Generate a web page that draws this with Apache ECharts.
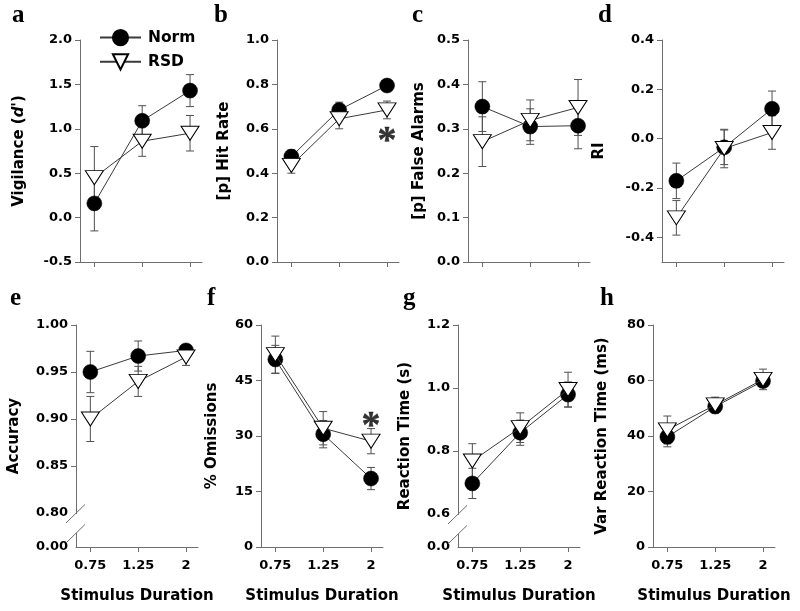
<!DOCTYPE html>
<html><head><meta charset="utf-8">
<script src="https://cdn.jsdelivr.net/npm/echarts@6/dist/echarts.min.js"></script>
<style>html,body{margin:0;padding:0;background:#fff}#c{width:800px;height:611px}</style>
</head><body><div id="c"></div>
<script>
// ---- data ----
const durations = ['0.75', '1.25', '2'];
// a Vigilance (d')
const normA = [0.16, 1.09, 1.43], normA_se = [0.31, 0.17, 0.18];
const rsdA = [0.45, 0.86, 0.95], rsdA_se = [0.35, 0.17, 0.20];
// b Hit rate
const normB = [0.475, 0.685, 0.795], normB_se = [0.03, 0.035, 0.02];
const rsdB = [0.435, 0.645, 0.685], rsdB_se = [0.035, 0.045, 0.04];
// c False alarms
const normC = [0.350, 0.305, 0.307], normC_se = [0.056, 0.040, 0.052];
const rsdC = [0.271, 0.319, 0.348], rsdC_se = [0.056, 0.046, 0.063];
// d RI
const normD = [-0.171, -0.035, 0.121], normD_se = [0.072, 0.070, 0.072];
const rsdD = [-0.321, -0.040, 0.025], rsdD_se = [0.070, 0.078, 0.068];
// e Accuracy
const normE = [0.950, 0.967, 0.973], normE_se = [0.022, 0.016, 0.005];
const rsdE = [0.900, 0.940, 0.966], rsdE_se = [0.024, 0.016, 0.009];
// f % Omissions
const normF = [50.7, 30.5, 18.5], normF_se = [3.8, 3.7, 3.0];
const rsdF = [52.0, 32.1, 28.6], rsdF_se = [5.0, 4.5, 3.4];
// g Reaction time
const normG = [0.697, 0.858, 0.979], normG_se = [0.048, 0.040, 0.040];
const rsdG = [0.768, 0.874, 0.995], rsdG_se = [0.055, 0.047, 0.055];
// h Var reaction time
const normH = [39.7, 50.6, 59.8], normH_se = [3.6, 1.5, 1.5];
const rsdH = [42.2, 51.2, 60.4], rsdH_se = [5.0, 2.8, 3.7];
// significance markers [x index, y value]
const starB = [[2, 0.585]];
const starF = [[2, 35.1]];
// tick labels
const dTicks = [-0.4, -0.2, 0.0, 0.2, 0.4];
const eTicks = [0.80, 0.85, 0.90, 0.95, 1.00];
const gTicks = [0.6, 0.8, 1.0, 1.2];
const eFloor = 0.7638, gFloor = 0.495; // axis-break floor shown as 0

// ---- style ----
const FONT = 'DejaVu Sans';
const AX = '#6e6e6e';
const LINE = '#3a3a3a';
const X_MIN = -0.3, X_MAX = 2.25;
const TRI = 'path://M0,0L18,0L9,14Z';

const chart = echarts.init(document.getElementById('c'), null, {renderer: 'canvas'});

const panels = [
  {left: 80,  top: 40,  norm: normA, nse: normA_se, rsd: rsdA, rse: rsdA_se, gap: 53, xl: false,
   y: {min: -0.5, max: 2.0, interval: 0.5, fmt: v => v.toFixed(1)},
   name: '{n|Vigilance (}{i|d\'}{n|)}'},
  {left: 277, top: 40,  norm: normB, nse: normB_se, rsd: rsdB, rse: rsdB_se, gap: 45, xl: false,
   y: {min: 0, max: 1.0, interval: 0.2, fmt: v => v.toFixed(1)}, name: '[p] Hit Rate'},
  {left: 468, top: 40,  norm: normC, nse: normC_se, rsd: rsdC, rse: rsdC_se, gap: 41, xl: false,
   y: {min: 0, max: 0.5, interval: 0.1, fmt: v => v.toFixed(1)}, name: '[p] False Alarms'},
  {left: 662, top: 40,  norm: normD, nse: normD_se, rsd: rsdD, rse: rsdD_se, gap: 55, xl: false,
   y: {min: -0.5, max: 0.4, custom: dTicks, ticks: dTicks, fmt: v => v.toFixed(1)}, name: 'RI'},
  {left: 76,  top: 325, norm: normE, nse: normE_se, rsd: rsdE, rse: rsdE_se, gap: 54, xl: true,
   y: {min: eFloor, max: 1.0, custom: [eFloor].concat(eTicks), ticks: eTicks.slice(1),
       fmt: v => v < 0.79 ? '0.00' : v.toFixed(2)}, name: 'Accuracy', brk: 0.80},
  {left: 261, top: 325, norm: normF, nse: normF_se, rsd: rsdF, rse: rsdF_se, gap: 41, xl: true,
   y: {min: 0, max: 60, interval: 15, fmt: v => String(v)}, name: '% Omissions'},
  {left: 458, top: 325, norm: normG, nse: normG_se, rsd: rsdG, rse: rsdG_se, gap: 45, xl: true,
   y: {min: gFloor, max: 1.2, custom: [gFloor].concat(gTicks), ticks: gTicks.slice(1),
       fmt: v => v < 0.55 ? '0.0' : v.toFixed(1)}, name: 'Reaction Time (s)', brk: 0.6},
  {left: 653, top: 325, norm: normH, nse: normH_se, rsd: rsdH, rse: rsdH_se, gap: 43, xl: true,
   y: {min: 0, max: 80, interval: 20, fmt: v => String(v)}, name: 'Var Reaction Time (ms)'}
];

const labelStyle = {fontFamily: FONT, fontWeight: 'bold', fontSize: 13, color: '#000'};
const nameStyle = {fontFamily: FONT, fontWeight: 'bold', fontSize: 15, color: '#000'};

function errSeries(gi, vals, ses, z) {
  return {
    type: 'custom', xAxisIndex: gi, yAxisIndex: gi, z: z, silent: true, name: 'err' + gi + '_' + z,
    data: vals.map((v, i) => [i, v, ses[i]]),
    renderItem: function (params, api) {
      const x = api.value(0), v = api.value(1), s = api.value(2);
      const t = api.coord([x, v + s]), b = api.coord([x, v - s]);
      const hw = 4, st = {stroke: '#505050', lineWidth: 1};
      return {type: 'group', children: [
        {type: 'line', shape: {x1: t[0], y1: t[1], x2: b[0], y2: b[1]}, style: st},
        {type: 'line', shape: {x1: t[0] - hw, y1: t[1], x2: t[0] + hw, y2: t[1]}, style: st},
        {type: 'line', shape: {x1: b[0] - hw, y1: b[1], x2: b[0] + hw, y2: b[1]}, style: st}
      ]};
    }
  };
}

const grid = [], xAxis = [], yAxis = [], series = [];
panels.forEach((p, gi) => {
  grid.push({left: p.left, top: p.top, width: 122, height: 222});
  xAxis.push({
    type: 'value', gridIndex: gi, min: X_MIN, max: X_MAX,
    axisLine: {show: true, onZero: false, lineStyle: {color: AX, width: 1}},
    axisTick: {show: true, length: 5, customValues: [0, 1, 2], lineStyle: {color: AX}},
    axisLabel: Object.assign({show: p.xl, customValues: [0, 1, 2], margin: 12,
      formatter: v => durations[Math.round(v)]}, labelStyle),
    splitLine: {show: false},
    name: p.xl ? 'Stimulus Duration' : '', nameLocation: 'middle', nameGap: 42,
    nameTextStyle: nameStyle
  });
  const y = p.y;
  const ya = {
    type: 'value', gridIndex: gi, min: y.min, max: y.max,
    axisLine: {show: true, onZero: false, lineStyle: {color: AX, width: 1}},
    axisTick: {show: true, length: 5, lineStyle: {color: AX}},
    axisLabel: Object.assign({margin: 8, formatter: y.fmt}, labelStyle),
    splitLine: {show: false},
    name: p.name, nameLocation: 'middle', nameRotate: 90, nameGap: p.gap,
    nameTextStyle: Object.assign({}, nameStyle, {rich: {
      n: nameStyle, i: Object.assign({}, nameStyle, {fontStyle: 'italic'})}})
  };
  if (y.interval) ya.interval = y.interval;
  if (y.custom) { ya.axisLabel.customValues = y.custom; ya.axisTick.customValues = y.ticks; }
  yAxis.push(ya);

  series.push(errSeries(gi, p.norm, p.nse, 1));
  series.push(errSeries(gi, p.rsd, p.rse, 1));
  series.push({
    type: 'line', name: 'Norm', xAxisIndex: gi, yAxisIndex: gi, z: 3,
    data: p.norm.map((v, i) => [i, v]),
    symbol: 'circle', symbolSize: 15, showSymbol: true,
    itemStyle: {color: '#000', borderColor: '#000', borderWidth: 0.5},
    lineStyle: {color: LINE, width: 1}
  });
  series.push({
    type: 'line', name: 'RSD', xAxisIndex: gi, yAxisIndex: gi, z: 4,
    data: p.rsd.map((v, i) => [i, v]),
    symbol: TRI, symbolSize: [18, 14], showSymbol: true,
    itemStyle: {color: '#fff', borderColor: '#000', borderWidth: 1},
    lineStyle: {color: LINE, width: 1}
  });
});

function starSeries(gi, pts) {
  return {
    type: 'scatter', xAxisIndex: gi, yAxisIndex: gi, z: 5, silent: true, name: 'star' + gi,
    data: pts, symbolSize: 1, itemStyle: {color: 'transparent'},
    label: {show: true, position: 'inside', formatter: '*', fontFamily: 'Liberation Serif',
      fontWeight: 'bold', fontSize: 38, color: '#000', textBorderColor: '#000', textBorderWidth: 0.4,
      offset: [0, 10]}
  };
}
series.push(starSeries(1, starB));
series.push(starSeries(5, starF));

chart.setOption({
  animation: false,
  backgroundColor: '#fff',
  grid, xAxis, yAxis, series,
  legend: {
    data: ['Norm', 'RSD'], orient: 'vertical', left: 94, top: 24, itemWidth: 41, itemHeight: 19,
    itemGap: 7, selectedMode: false,
    textStyle: {fontFamily: FONT, fontWeight: 'bold', fontSize: 15.5, color: '#000', padding: [0, 0, 0, 2]}
  }
});

// ---- decorations: panel letters + axis breaks ----
const letters = [['a', 12, 22], ['b', 214, 22], ['c', 412, 22], ['d', 598, 22],
                 ['e', 10, 305], ['f', 207, 305], ['g', 403, 305], ['h', 600, 305]];
const graphics = letters.map(l => ({
  type: 'text', left: l[1], top: l[2] - 19, z: 100,
  style: {text: l[0], font: 'bold 25px "Liberation Serif"', fill: '#000'}
}));
panels.forEach((p, gi) => {
  if (p.brk === undefined) return;
  const px = chart.convertToPixel({xAxisIndex: gi, yAxisIndex: gi}, [X_MIN, p.brk]);
  const x = px[0], y1 = px[1] + 0.5, y2 = y1 + 20;
  graphics.push({type: 'rect', z: 100, shape: {x: x - 3, y: y1 + 0.5, width: 6, height: y2 - y1 - 1},
    style: {fill: '#fff'}});
  [y1, y2].forEach(yy => graphics.push({type: 'line', z: 101,
    shape: {x1: x - 10, y1: yy + 9.5, x2: x + 9, y2: yy - 9}, style: {stroke: AX, lineWidth: 1}}));
});
chart.setOption({graphic: graphics});
</script>
</body></html>
